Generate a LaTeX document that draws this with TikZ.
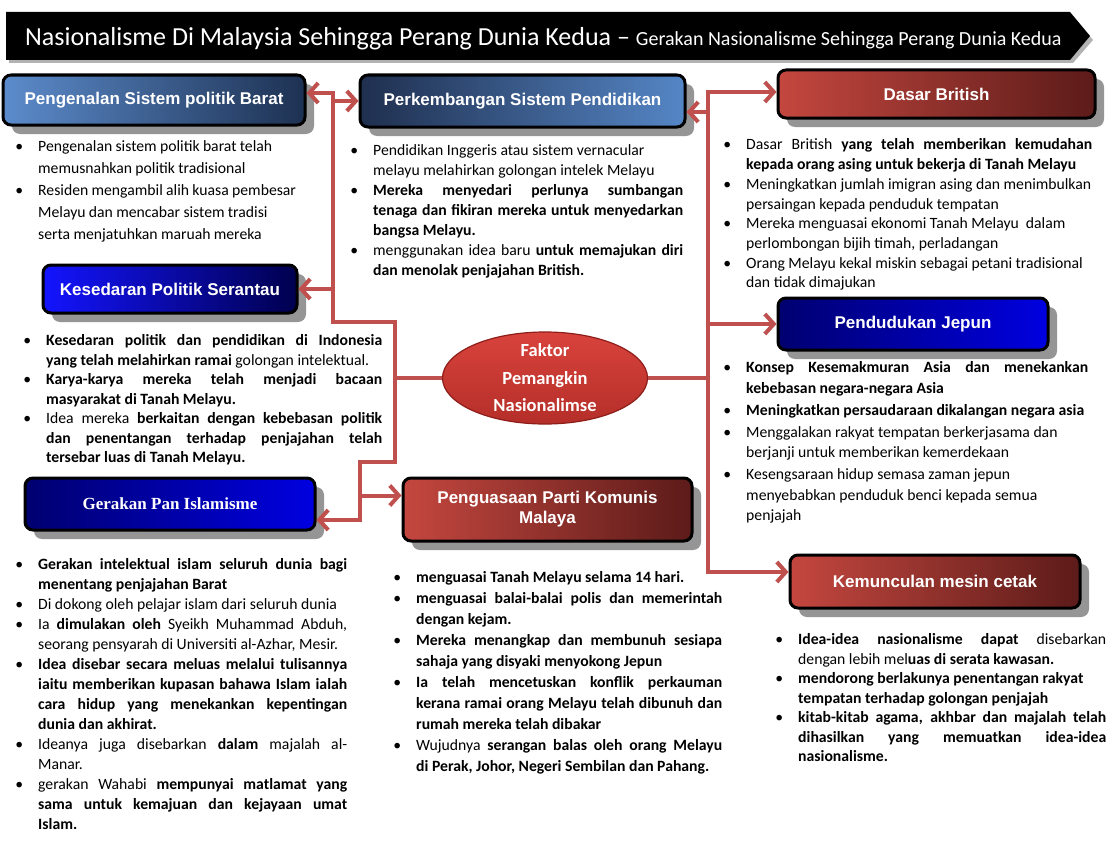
\documentclass[tikz,border=0pt]{standalone}
\usepackage{fontspec}
\setmainfont{Carlito}
\newfontfamily\boxfont{Liberation Sans}
\newfontfamily\boxserif{Liberation Serif}
\usepackage{tikz}
\usepackage{xcolor}
\usetikzlibrary{arrows.meta,positioning,calc,shapes.geometric,shadows}
\definecolor{Wire}{HTML}{C0504D}
\definecolor{RedL}{HTML}{C4473F}
\definecolor{RedR}{HTML}{5C1B19}
\definecolor{SteelL}{HTML}{5C8CCC}
\definecolor{SteelR}{HTML}{1D3152}
\definecolor{NavyL}{HTML}{1F2F4E}
\definecolor{NavyR}{HTML}{5586C6}
\definecolor{BlueL}{HTML}{1414FF}
\definecolor{BlueR}{HTML}{00004E}
\definecolor{DeepL}{HTML}{000070}
\definecolor{DeepR}{HTML}{0000E0}
\definecolor{Shade}{HTML}{8A8A8A}
\definecolor{CoreTop}{HTML}{D8433C}
\definecolor{CoreBot}{HTML}{B52E29}
\definecolor{CoreRim}{HTML}{8E1E1A}
\newenvironment{points}[2]{%
  \fontsize{15.7}{#1}\selectfont\hyphenpenalty=10000\exhyphenpenalty=10000\tolerance=9999
  \begin{list}{\textbullet}{\setlength{\leftmargin}{23pt}\setlength{\labelwidth}{8pt}%
    \setlength{\labelsep}{15pt}\setlength{\itemsep}{#2}\setlength{\parsep}{0pt}%
    \setlength{\topsep}{0pt}\setlength{\partopsep}{0pt}}}%
  {\end{list}}
\tikzset{
  topic/.style={rectangle, rounded corners=8pt, draw=black, line width=3pt, text=white,
    inner sep=0pt, align=center, font=\boxfont\bfseries\fontsize{17}{20}\selectfont,
    drop shadow={shadow xshift=9pt, shadow yshift=-9pt, fill=Shade, opacity=.9}},
  redtopic/.style={topic, left color=RedL, right color=RedR},
  steeltopic/.style={topic, left color=SteelL, right color=SteelR},
  navytopic/.style={topic, left color=NavyL, right color=NavyR},
  bluetopic/.style={topic, left color=BlueL, right color=BlueR},
  deeptopic/.style={topic, left color=DeepL, right color=DeepR},
  core/.style={ellipse, minimum width=205pt, minimum height=92pt, inner xsep=0pt, inner ysep=-4pt,
    top color=CoreTop, bottom color=CoreBot, draw=CoreRim, line width=1.2pt, text=white,
    align=center, font=\bfseries\fontsize{18.5}{27.5}\selectfont},
  pts/.style={anchor=north west, inner sep=0pt, text width=#1, align=justify},
  wire/.style={draw=Wire, line width=4pt, line cap=rect},
  link/.style={draw=Wire, line width=4pt, -{Straight Barb[length=9pt,width=20pt]}}
}

\begin{document}
\begin{tikzpicture}[x=1pt, y=-1pt]
    \useasboundingbox (0,0) rectangle (1116,859);
    \fill[white] (0,0) rectangle (1116,859);
    \fill[black!30] (9,16) -- (1073,16) -- (1093,40) -- (1073,63) -- (9,63) -- cycle;
    \fill[black] (6,12) -- (1070,12) -- (1090,36) -- (1070,60) -- (6,60) -- cycle;
    \node[anchor=base west, inner sep=0pt, text=white] (title) at (25,46)
      {\fontsize{26}{26}\selectfont Nasionalisme Di Malaysia Sehingga Perang Dunia Kedua -- \fontsize{20}{20}\selectfont Gerakan Nasionalisme Sehingga Perang Dunia Kedua};

    \node[steeltopic, minimum width=302pt, minimum height=50pt] (barat) at (154,100) {Pengenalan Sistem politik Barat};
    \node[navytopic, minimum width=325pt, minimum height=52pt] (didik) at (522.5,101) {Perkembangan Sistem Pendidikan};
    \node[redtopic, minimum width=317pt, minimum height=48pt] (dasar) at (936.5,94) {Dasar British};
    \node[bluetopic, minimum width=254pt, minimum height=48pt] (serantau) at (170,289) {Kesedaran Politik Serantau};
    \node[deeptopic, minimum width=270pt, minimum height=52pt] (jepun) at (913,324) {Pendudukan Jepun};
    \node[deeptopic, minimum width=290pt, minimum height=52pt, font=\boxserif\bfseries\fontsize{17}{20}\selectfont] (islam) at (170,504) {Gerakan Pan Islamisme};
    \node[redtopic, minimum width=289pt, minimum height=63pt] (komunis) at (547.5,509.5) {Penguasaan Parti Komunis\\Malaya};
    \node[redtopic, minimum width=290pt, minimum height=53pt] (cetak) at (935,581.5) {Kemunculan mesin cetak};
    \node[core] (faktor) at (545,378) {Faktor\\Pemangkin\\Nasionalimse};

    \node[pts=301pt, align=left] (baratpts) at (15,129) {\begin{points}{22pt}{0pt}
      \item Pengenalan sistem politik barat telah\newline memusnahkan politik tradisional
      \item Residen mengambil alih kuasa pembesar\newline Melayu dan mencabar sistem tradisi\newline serta menjatuhkan maruah mereka
    \end{points}};
    \node[pts=333pt] (didikpts) at (350,135) {\begin{points}{20pt}{0pt}
      \item Pendidikan Inggeris atau sistem vernacular\newline melayu melahirkan golongan intelek Melayu
      \item \textbf{Mereka menyedari perlunya sumbangan\linebreak tenaga dan fikiran mereka untuk menyedarkan\linebreak bangsa Melayu.}
      \item menggunakan idea baru \textbf{untuk memajukan diri\linebreak dan menolak penjajahan British.}
    \end{points}};
    \node[pts=369pt] (dasarpts) at (723,130) {\begin{points}{19.7pt}{0pt}
      \item Dasar British \textbf{yang telah memberikan kemudahan\linebreak kepada orang asing untuk bekerja di Tanah Melayu}
      \item Meningkatkan jumlah imigran asing dan menimbulkan\newline persaingan kepada penduduk tempatan
      \item Mereka menguasai ekonomi Tanah Melayu\ \ dalam\newline perlombongan bijih timah, perladangan
      \item Orang Melayu kekal miskin sebagai petani tradisional\newline dan tidak dimajukan
    \end{points}};
    \node[pts=359pt] (serantaupts) at (23,326) {\begin{points}{19.5pt}{0pt}
      \item \textbf{Kesedaran politik dan pendidikan di Indonesia\linebreak yang telah melahirkan ramai} golongan intelektual.
      \item \textbf{Karya-karya mereka telah menjadi bacaan\linebreak masyarakat di Tanah Melayu.}
      \item Idea mereka \textbf{berkaitan dengan kebebasan politik\linebreak dan penentangan terhadap penjajahan telah\linebreak tersebar luas di Tanah Melayu.}
    \end{points}};
    \node[pts=365pt] (jepunpts) at (723,352) {\begin{points}{20.5pt}{1.5pt}
      \item \textbf{Konsep Kesemakmuran Asia dan menekankan\linebreak kebebasan negara-negara Asia}
      \item \textbf{Meningkatkan persaudaraan dikalangan negara asia}
      \item Menggalakan rakyat tempatan berkerjasama dan\newline berjanji untuk memberikan kemerdekaan
      \item Kesengsaraan hidup semasa zaman jepun\newline menyebabkan penduduk benci kepada semua\newline penjajah
    \end{points}};
    \node[pts=332pt] (islampts) at (15,549) {\begin{points}{20pt}{0pt}
      \item \textbf{Gerakan intelektual islam seluruh dunia bagi\linebreak menentang penjajahan Barat}
      \item Di dokong oleh pelajar islam dari seluruh dunia
      \item Ia \textbf{dimulakan oleh} Syeikh Muhammad Abduh,\linebreak seorang pensyarah di Universiti al-Azhar, Mesir.
      \item \textbf{Idea disebar secara meluas melalui tulisannya\linebreak iaitu memberikan kupasan bahawa Islam ialah\linebreak cara hidup yang menekankan kepentingan\linebreak dunia dan akhirat.}
      \item Ideanya juga disebarkan \textbf{dalam} majalah al-\linebreak Manar.
      \item gerakan Wahabi \textbf{mempunyai matlamat yang\linebreak sama untuk kemajuan dan kejayaan umat\linebreak Islam.}
    \end{points}};
    \node[pts=329pt] (komunispts) at (393,561) {\begin{points}{21pt}{0pt}
      \item \textbf{menguasai Tanah Melayu selama 14 hari.}
      \item \textbf{menguasai balai-balai polis dan memerintah\linebreak dengan kejam.}
      \item \textbf{Mereka menangkap dan membunuh sesiapa\linebreak sahaja yang disyaki menyokong Jepun}
      \item \textbf{Ia telah mencetuskan konflik perkauman\linebreak kerana ramai orang Melayu telah dibunuh dan\linebreak rumah mereka telah dibakar}
      \item Wujudnya \textbf{serangan balas oleh orang Melayu\linebreak di Perak, Johor, Negeri Sembilan dan Pahang.}
    \end{points}};
    \node[pts=331pt] (cetakpts) at (775,625) {\begin{points}{19.5pt}{0pt}
      \item \textbf{Idea-idea nasionalisme dapat} disebarkan\linebreak dengan lebih mel\textbf{uas di serata kawasan.}
      \item \textbf{mendorong berlakunya penentangan rakyat\newline tempatan terhadap golongan penjajah}
      \item \textbf{kitab-kitab agama, akhbar dan majalah telah\linebreak dihasilkan yang memuatkan idea-idea\linebreak nasionalisme.}
    \end{points}};

    \coordinate (topL) at (333,93);
    \coordinate (jogA) at (333,322);
    \coordinate (jogB) at (395,322);
    \coordinate (jogC) at (395,462);
    \coordinate (jogD) at (360,462);
    \coordinate (lowL) at (360,520);
    \coordinate (topR) at (708,92);
    \coordinate (lowR) at (708,572);
    \coordinate (kin) at ([yshift=14pt]komunis.west);
    \coordinate (din) at ([yshift=-11pt]didik.east);
    \draw[wire] (topL) -- (jogA) -- (jogB) -- (jogC) -- (jogD) -- (lowL);
    \draw[wire] (topR) -- (lowR);
    \draw[wire, line cap=butt] (faktor.west) -- (faktor.west -| jogB);
    \draw[wire, line cap=butt] (faktor.east) -- (faktor.east -| topR);
    \draw[link] (topL) -- (topL -| barat.east);
    \draw[link] (topL |- didik.west) -- (didik.west);
    \draw[link] (topL |- serantau.east) -- (serantau.east);
    \draw[link] (kin -| lowL) -- (kin);
    \draw[link] (lowL) -- (lowL -| islam.east);
    \draw[link] (topR) -- (topR -| dasar.west);
    \draw[link] (din -| topR) -- (din);
    \draw[link] (topR |- jepun.west) -- (jepun.west);
    \draw[link] (lowR) -- (lowR -| cetak.west);
  \end{tikzpicture}
\end{document}
